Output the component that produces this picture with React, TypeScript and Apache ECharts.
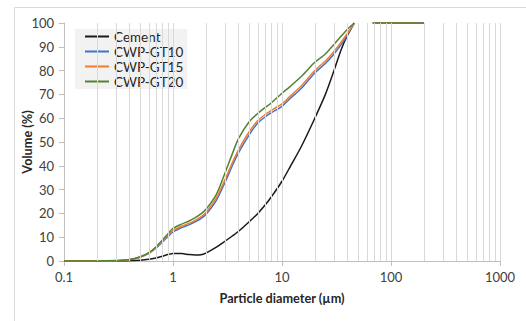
import React, { useEffect, useRef } from "react";
import * as echarts from "echarts";

const sizes = [0.1, 0.2, 0.3, 0.4, 0.5, 0.6, 0.7, 0.8, 0.9, 1.0, 1.2, 1.4, 1.6, 1.8, 2.0, 2.5, 3.0, 3.5, 4, 5, 6, 7, 8, 10, 12, 15, 20, 25, 30, 35, 40, 46];
const cement = [0, 0, 0, 0.1, 0.3, 0.7, 1.3, 2.0, 2.7, 3.1, 3.1, 2.7, 2.5, 2.6, 3.3, 5.8, 8.3, 10.5, 12.5, 16.5, 20, 23.5, 27, 33.5, 40, 48, 60, 70, 80, 89, 95, 100];
const gt10 = [0, 0, 0.1, 0.5, 1.6, 3.2, 5.5, 8, 10.3, 12.2, 14, 15.2, 16.5, 17.8, 19.5, 25.5, 33, 40, 45.5, 53, 58, 60.5, 62.3, 65, 68.5, 72.5, 79, 83, 87, 91, 95, 100];
const gt15 = [0, 0, 0.1, 0.5, 1.7, 3.3, 5.7, 8.3, 10.8, 12.8, 14.6, 15.8, 17.1, 18.5, 20.3, 26.5, 34.2, 41.3, 46.8, 54.3, 59, 61.5, 63.3, 66, 69.5, 73.5, 80, 84, 88, 92, 95.8, 100];
const gt20 = [0, 0, 0.2, 0.6, 1.8, 3.5, 6, 8.8, 11.5, 13.7, 15.5, 16.8, 18.2, 19.8, 21.6, 28, 37, 45, 51.5, 58.5, 62, 64.5, 66.5, 70.5, 73.5, 77.5, 83.5, 87, 91, 94.5, 97.5, 100];
const tailSizes = [68, 200];
const tailValues = [100, 100];
const xTickLabels: Record<string, string> = { "0.1": "0.1", "1": "1", "10": "10", "100": "100", "1000": "1000" };
const gridLinePositions = [
  0.2, 0.3, 0.4, 0.5, 0.6, 0.7, 0.8, 0.9, 1,
  2, 3, 4, 5, 6, 7, 8, 9, 10,
  20, 30, 40, 50, 60, 70, 80, 90, 100,
  200, 300, 400, 500, 600, 700, 800, 900, 1000,
];

const seriesDefs = [
  { name: "Cement", values: cement, color: "#1a1a1a" },
  { name: "CWP-GT10", values: gt10, color: "#4472C4" },
  { name: "CWP-GT15", values: gt15, color: "#ED7D31" },
  { name: "CWP-GT20", values: gt20, color: "#548235" },
];

const FONT = "Lato, 'Open Sans', sans-serif";

export default function App() {
  const ref = useRef<HTMLDivElement>(null);
  useEffect(() => {
    if (!ref.current) return;
    const chart = echarts.init(ref.current, undefined, { renderer: "svg" });
    const buildData = (vals: number[]) => {
      const d: any[] = sizes.map((s, i) => [s, vals[i]]);
      d.push([56, "-"]);
      tailSizes.forEach((s, i) => d.push([s, tailValues[i]]));
      return d;
    };
    chart.setOption({
      animation: false,
      textStyle: { fontFamily: FONT },
      grid: { left: 64, right: 26, top: 23, bottom: 60 },
      graphic: [
        {
          type: "rect",
          shape: { x: 14.5, y: 7.5, width: 700, height: 500 },
          style: { fill: "none", stroke: "#D9D9D9", lineWidth: 1 },
          silent: true,
        },
      ],
      legend: {
        left: 75,
        top: 29,
        orient: "vertical",
        data: seriesDefs.map((s) => ({ name: s.name, icon: "rect" })),
        backgroundColor: "#F2F2F2",
        padding: [0, 4, 0, 10],
        itemWidth: 24,
        itemHeight: 2,
        itemGap: 0,
        textStyle: { fontSize: 13.5, color: "#262626", fontFamily: FONT, lineHeight: 15 },
      },
      xAxis: {
        type: "log",
        logBase: 10,
        min: 0.1,
        max: 1000,
        name: "Particle diameter (µm)",
        nameLocation: "middle",
        nameGap: 30,
        nameTextStyle: { fontWeight: "bold", fontSize: 12.7, color: "#262626", fontFamily: FONT },
        axisLine: { show: true, lineStyle: { color: "#BFBFBF" } },
        axisTick: { show: true, length: 5, lineStyle: { color: "#BFBFBF" } },
        axisLabel: {
          fontSize: 13,
          color: "#404040",
          margin: 9,
          fontFamily: FONT,
          formatter: (v: number) => xTickLabels[String(Number(v.toPrecision(6)))] ?? String(v),
        },
        splitLine: { show: false },
      },
      yAxis: {
        type: "value",
        min: 0,
        max: 100,
        interval: 10,
        name: "Volume (%)",
        nameLocation: "middle",
        nameGap: 31,
        nameMoveOverlap: false,
        nameTextStyle: { fontWeight: "bold", fontSize: 12.7, color: "#262626", fontFamily: FONT },
        axisLine: { show: true, lineStyle: { color: "#BFBFBF" } },
        axisTick: { show: true, length: 5, lineStyle: { color: "#BFBFBF" } },
        axisLabel: { fontSize: 13, color: "#404040", margin: 10, fontFamily: FONT },
        splitLine: { show: false },
      },
      series: [
        {
          name: "gridlines",
          type: "line",
          data: [],
          silent: true,
          markLine: {
            silent: true,
            symbol: "none",
            label: { show: false },
            lineStyle: { color: "#D9D9D9", type: "solid", width: 1 },
            data: gridLinePositions.map((v) => ({ xAxis: v })),
          },
        },
        ...seriesDefs.map((s) => ({
          name: s.name,
          type: "line",
          data: buildData(s.values),
          smooth: 0.3,
          symbol: "none",
          connectNulls: false,
          lineStyle: { color: s.color, width: 1.5 },
          itemStyle: { color: s.color },
        })),
      ],
    });
    return () => chart.dispose();
  }, []);
  return (
    <div
      ref={ref}
      style={{ position: "fixed", left: 0, top: 0, width: 526, height: 321, background: "#fff" }}
    />
  );
}
